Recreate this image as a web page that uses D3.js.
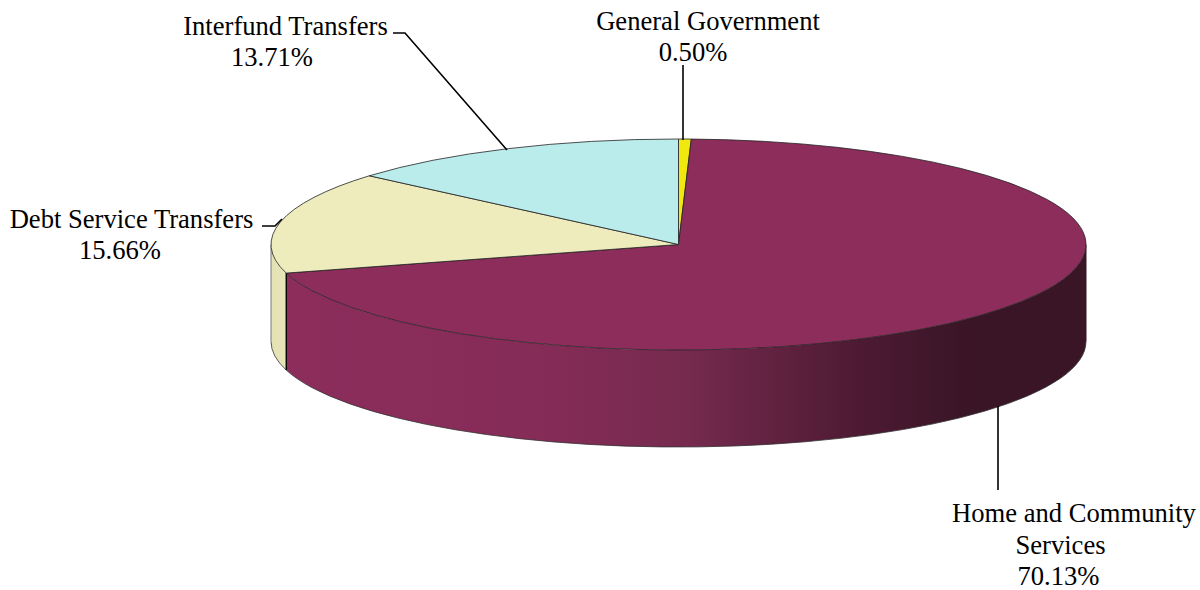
<!DOCTYPE html>
<html>
<head>
<meta charset="utf-8">
<script src="https://cdn.jsdelivr.net/npm/d3@7/dist/d3.min.js"></script>
<style>
html,body{margin:0;padding:0;background:#fff;}
svg{display:block;}
text{font-family:"Liberation Serif","Times New Roman",serif;font-size:26.6px;fill:#000;text-anchor:middle;}
</style>
</head>
<body>
<svg id="chart" width="1200" height="590"></svg>
<script>
const categories = ["General Government","Home and Community Services","Debt Service Transfers","Interfund Transfers"];
const values = [0.50,70.13,15.66,13.71];
const valueLabels = ["0.50%","70.13%","15.66%","13.71%"];
const topColors = ["#f0e80f","#8c2d5c","#eeecbc","#bbecec"];
const wallStops = [[0,"#8c2d5c"],[0.30,"#862c58"],[0.50,"#762a4e"],[0.72,"#4c1a33"],[0.85,"#3a1526"],[1,"#3a1526"]];

const W=1200,H=590,cx=678.5,cy=244.5,rx=407.5,ry=105.5,depth=97;
const svg=d3.select("#chart");
const xs=d3.scaleLinear().domain([-1,1]).range([cx-rx,cx+rx]);
const ys=d3.scaleLinear().domain([-1,1]).range([cy-ry,cy+ry]);
const px=a=>xs(Math.sin(a)), py=a=>ys(-Math.cos(a));

const arcs=d3.pie().sort(null).value(d=>d)(values);

const defs=svg.append("defs");
const wine=defs.append("linearGradient").attr("id","wine").attr("gradientUnits","userSpaceOnUse")
  .attr("x1",xs(-0.96)).attr("x2",xs(1)).attr("y1",0).attr("y2",0);
wallStops.forEach(s=>wine.append("stop").attr("offset",s[0]).attr("stop-color",s[1]));
const cream=defs.append("linearGradient").attr("id","cream").attr("gradientUnits","userSpaceOnUse")
  .attr("x1",xs(-1)).attr("x2",xs(-0.96)).attr("y1",0).attr("y2",0);
cream.append("stop").attr("offset",0).attr("stop-color","#e4e2b4");
cream.append("stop").attr("offset",1).attr("stop-color","#e8e6b8");
const wallFill=["#d8d20e","url(#wine)","url(#cream)","#a9d6d6"];

// side wall: lower half of the ellipse only
arcs.forEach((d,i)=>{
  const a0=Math.max(d.startAngle,Math.PI/2), a1=Math.min(d.endAngle,3*Math.PI/2);
  if(a1<=a0) return;
  const p=`M${px(a0)},${py(a0)}A${rx},${ry} 0 0 1 ${px(a1)},${py(a1)}`+
    `L${px(a1)},${py(a1)+depth}A${rx},${ry} 0 0 0 ${px(a0)},${py(a0)+depth}Z`;
  svg.append("path").attr("d",p).attr("fill",wallFill[i]).attr("stroke","none");
  svg.append("path").attr("d",`M${px(a0)},${py(a0)+depth}A${rx},${ry} 0 0 1 ${px(a1)},${py(a1)+depth}`)
    .attr("fill","none").attr("stroke","#333").attr("stroke-width",0.8);
});
// wall verticals
[[arcs[1].endAngle,"#000",1.4],[Math.PI*1.5,"#777",1],[Math.PI/2,"#3a1526",1]].forEach(v=>{
  svg.append("line").attr("x1",px(v[0])).attr("x2",px(v[0])).attr("y1",py(v[0])).attr("y2",py(v[0])+depth)
    .attr("stroke",v[1]).attr("stroke-width",v[2]);
});

// top face
arcs.forEach((d,i)=>{
  const large=(d.endAngle-d.startAngle)>Math.PI?1:0;
  const p=`M${cx},${cy}L${px(d.startAngle)},${py(d.startAngle)}`+
    `A${rx},${ry} 0 ${large} 1 ${px(d.endAngle)},${py(d.endAngle)}Z`;
  svg.append("path").attr("d",p).attr("fill",topColors[i])
    .attr("stroke","#222").attr("stroke-width",0.8).attr("stroke-linejoin","round");
});

// leaders
const line=d3.line();
[
  [[393,33],[405,33],[507,150]],
  [[683,65],[683,140]],
  [[262,226],[275,226],[282,219]],
  [[998,406],[998,490]]
].forEach(l=>svg.append("path").attr("d",line(l)).attr("fill","none").attr("stroke","#000").attr("stroke-width",1.6));

// labels
const labelText=[
  [[categories[0],708,30],[valueLabels[0],693,61]],
  [["Home and Community",1074,522],["Services",1060.5,554],[valueLabels[1],1058.5,585]],
  [[categories[2],131.5,228],[valueLabels[2],120,259]],
  [[categories[3],285.5,35],[valueLabels[3],272,66]]
];
labelText.forEach(g=>g.forEach(t=>svg.append("text").attr("x",t[1]).attr("y",t[2]).text(t[0])));
</script>
</body>
</html>
